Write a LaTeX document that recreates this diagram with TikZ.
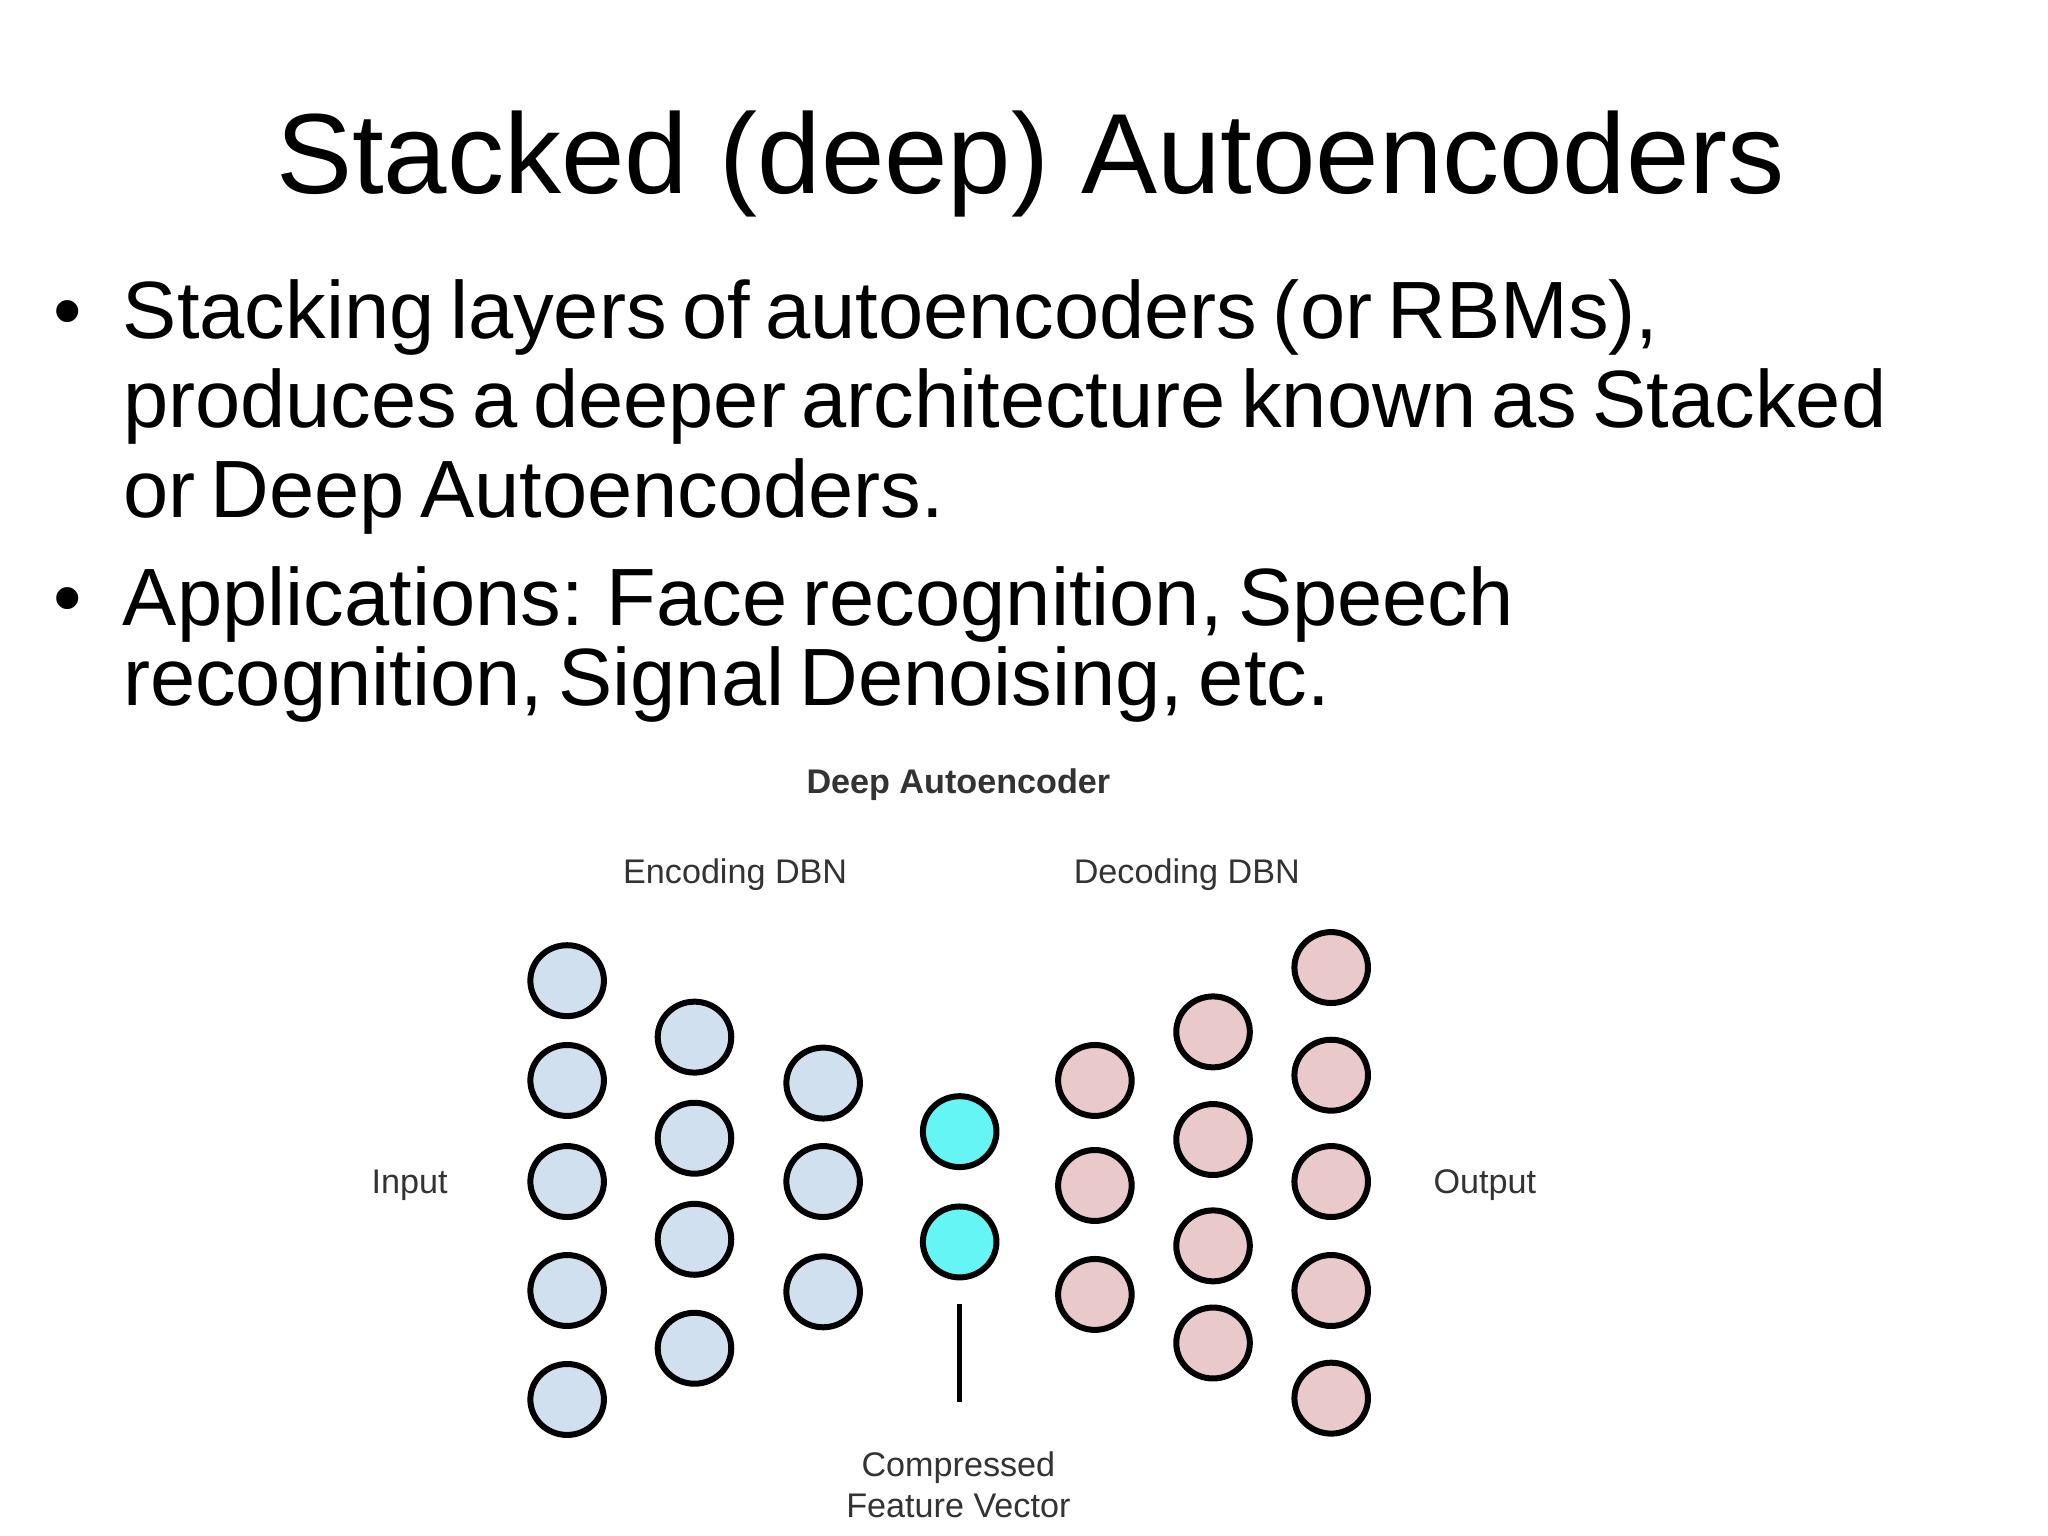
\documentclass[tikz,border=0pt]{standalone}
\usepackage{fontspec}
\setmainfont{Liberation Sans}
\usetikzlibrary{shapes.geometric}
\begin{document}
\begin{tikzpicture}[x=0.01cm,y=-0.01cm]
		\tikzset{unitstyle/.style={ellipse, draw, line width=1.3pt, minimum width=0.56cm, minimum height=0.54cm, inner sep=0pt},
			encstyle/.style={unitstyle, fill={rgb,255:red,208;green,224;blue,238}},
			codestyle/.style={unitstyle, fill={rgb,255:red,102;green,245;blue,245}},
			decstyle/.style={unitstyle, fill={rgb,255:red,234;green,201;blue,203}},
			labstyle/.style={text=black!80, font=\fontsize{7.4}{9}\selectfont}}
		\useasboundingbox (0,0) rectangle (1560,1170);
		
		\node (title) at (785,125) {\fontsize{24.7}{30}\selectfont Stacked (deep) Autoencoders};
		\node[anchor=north west, text width=15cm, inner sep=0pt, align=left] (bullets) at (40,212) {\fontsize{17.6}{19.4}\selectfont
			\makebox[0.53cm][l]{\textbullet}Stacking layers of autoencoders (or RBMs),\\
			\hspace*{0.53cm}produces a deeper architecture known as Stacked\\
			\hspace*{0.53cm}or Deep Autoencoders.\\[4pt]
			\makebox[0.53cm][l]{\textbullet}Applications: Face recognition, Speech\\
			\hspace*{0.53cm}recognition, Signal Denoising, etc.};
		
		\node[labstyle, font=\bfseries\fontsize{7.4}{9}\selectfont] (deeplab) at (730,598) {Deep Autoencoder};
		\node[labstyle] (enclab) at (560,666) {Encoding DBN};
		\node[labstyle] (declab) at (904,666) {Decoding DBN};
		\node[labstyle] (inlab) at (312,903) {Input};
		\node[labstyle] (outlab) at (1131,903) {Output};
		\node[labstyle, align=center] (cfvlab) at (730,1131) {Compressed\\Feature Vector};
		
		% encoding layers
		\foreach \y [count=\i] in {747,823,900,983,1066} \node[encstyle] (ea\i) at (432,\y) {};
		\foreach \y [count=\i] in {790,867,944,1027} \node[encstyle] (eb\i) at (529,\y) {};
		\foreach \y [count=\i] in {825,900,984} \node[encstyle] (ec\i) at (627,\y) {};
		% code layer
		\node[codestyle] (code1) at (731,862) {};
		\node[codestyle] (code2) at (731,946) {};
		% decoding layers
		\foreach \y [count=\i] in {823,903,986} \node[decstyle] (da\i) at (834,\y) {};
		\foreach \y [count=\i] in {786,868,949,1023} \node[decstyle] (db\i) at (924,\y) {};
		\foreach \y [count=\i] in {737,819,900,983,1065} \node[decstyle] (dc\i) at (1014,\y) {};
		
		\coordinate (cfvtop) at (731,993);
		\coordinate (cfvbot) at (731,1068);
		\draw[line width=1pt] (cfvtop) -- (cfvbot);
		
		\end{tikzpicture}
\end{document}
